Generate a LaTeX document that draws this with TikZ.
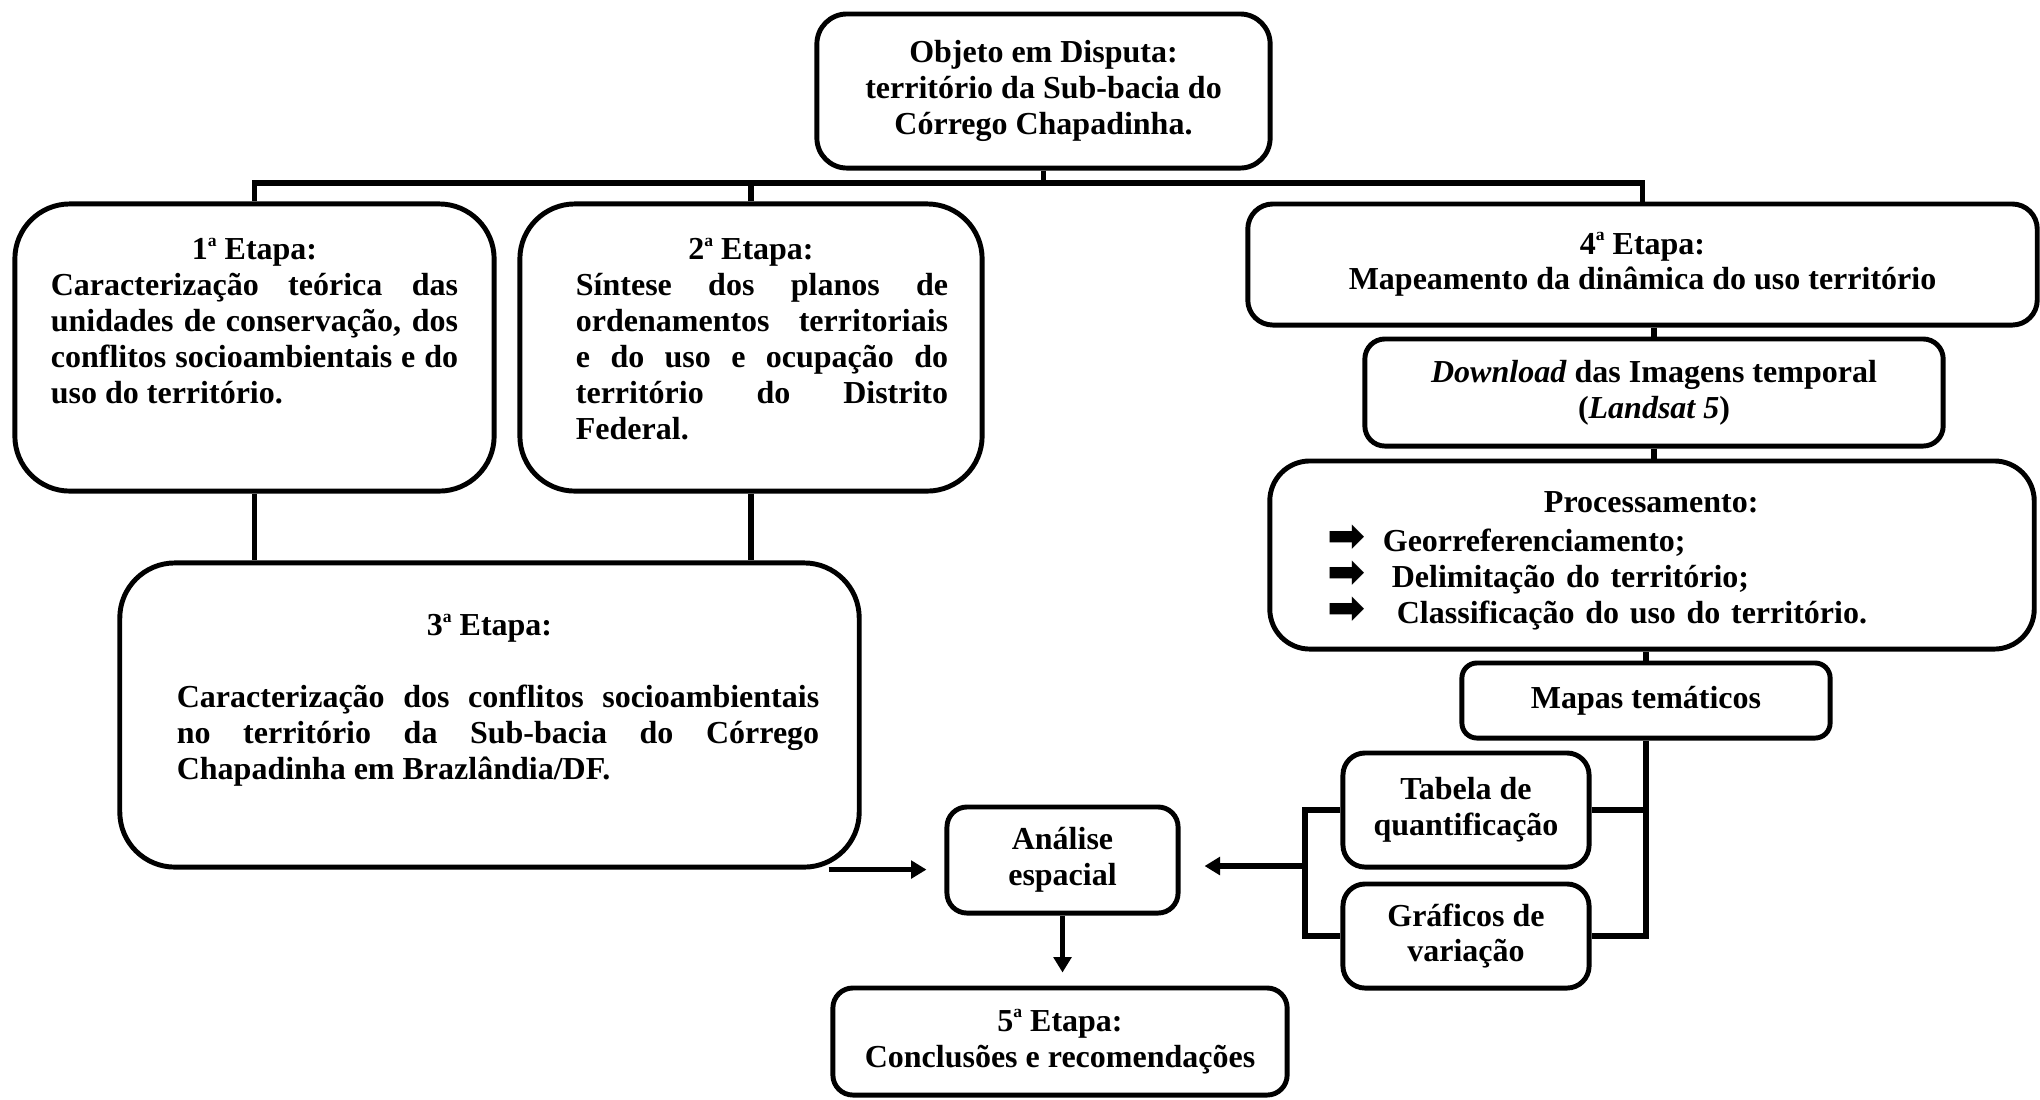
\documentclass[tikz,border=0pt]{standalone}
\usepackage{fontspec}
\setmainfont{Liberation Serif}
\newfontfamily\dejavu{DejaVu Sans}
\usetikzlibrary{arrows.meta, calc}
\tolerance=10000
\hyphenpenalty=10000
\exhyphenpenalty=10000

\newcommand{\diagfont}{\fontsize{9.1}{10.2}\selectfont\bfseries}
\newcommand{\ord}{\raisebox{0.42em}{\fontsize{5}{5}\selectfont a}}
\newcommand{\procarrow}[1][0cm]{\makebox[0.55cm][l]{\dejavu\fontsize{13}{10}\selectfont ➡}\hspace*{#1}}

\begin{document}
\begin{tikzpicture}[
    x=0.01cm, y=-0.01cm,
    every node/.style={font=\diagfont},
    box/.style={rectangle, draw=black, line width=1.4pt, rounded corners=#1, align=center, inner sep=2pt},
    box/.default=0.2cm,
    stage/.style={box=0.55cm, align=justify, inner ysep=0pt},
    link/.style={line width=1.6pt},
    arrow/.style={link, -{Triangle[length=4.4pt, width=5pt]}}
]
\useasboundingbox (0,0) rectangle (2040,1099);

% Objeto em disputa e etapas 1, 2 e 4
\node[box=0.3cm, minimum width=4.53cm, minimum height=1.54cm] (obj) at (1043.5,91) {Objeto em Disputa:\\território da Sub-bacia do\\Córrego Chapadinha.};
\node[stage, text width=4.07cm, inner xsep=0.36cm, text height=0.56cm, text depth=2.31cm] (s1) at (254.5,347.5) {{\centering 1\ord{} Etapa:\par}Caracterização teórica das\linebreak unidades de conservação, dos\linebreak conflitos socioambientais e do\linebreak uso do território.};
\node[stage, text width=3.89cm, inner xsep=0.365cm, text height=0.56cm, text depth=2.31cm] (s2) at (751,347.5) {{\centering 2\ord{} Etapa:\par}\hspace*{0.195cm}\parbox[t]{3.72cm}{Síntese dos planos de\linebreak ordenamentos territoriais\linebreak e do uso e ocupação do\linebreak território do Distrito\linebreak Federal.}};
\node[box=0.25cm, minimum width=7.89cm, minimum height=1.21cm] (s4) at (1642.5,264.5) {4\ord{} Etapa:\\Mapeamento da dinâmica do uso território};

% Etapa 3
\node[stage, text width=6.6cm, inner xsep=0.395cm, text height=0.73cm, text depth=2.31cm] (s3) at (489.5,715) {{\centering 3\ord{} Etapa:\par}\vspace{\baselineskip}\hspace*{0.175cm}\parbox[t]{6.42cm}{Caracterização dos conflitos socioambientais\linebreak no território da Sub-bacia do Córrego\linebreak Chapadinha em Brazlândia/DF.}};

% Mapeamento
\node[box, minimum width=5.78cm, minimum height=1.07cm] (dl) at (1654,392.5) {\textit{Download} das Imagens temporal\\(\textit{Landsat 5})};
\node[box=0.4cm, minimum width=7.64cm, minimum height=1.88cm, text width=6.48cm, align=left, inner xsep=0.58cm] (proc) at (1652,555) {\rule{0pt}{0.32cm}\hspace*{2.16cm}Processamento:\\[0.03cm]\procarrow Georreferenciamento;\\\procarrow[0.09cm]Delimitação do território;\\\procarrow[0.14cm]Classificação do uso do território.};
\node[box=0.15cm, minimum width=3.68cm, minimum height=0.75cm] (mapas) at (1646,700.5) {Mapas temáticos};
\node[box=0.22cm, minimum width=2.46cm, minimum height=1.14cm] (tab) at (1466,810) {Tabela de\\quantificação};
\node[box=0.22cm, minimum width=2.46cm, minimum height=1.04cm] (graf) at (1466,936) {Gráficos de\\variação};

% Analise e etapa 5
\node[box, minimum width=2.31cm, minimum height=1.06cm] (ana) at (1062.5,860) {Análise\\espacial};
\node[box, minimum width=4.54cm, minimum height=1.07cm] (s5) at (1060,1041.5) {5\ord{} Etapa:\\Conclusões e recomendações};

% ligacoes
\coordinate (hub) at (1043.5,183);
\coordinate (fork) at (1305,866);
\draw[link] (obj.south) -- (hub);
\draw[link] (s1.north) |- (hub) -| (s4.north);
\draw[link] (s2.north) -- (s2.north |- hub);
\draw[link] (s1.south) -- (s1.south |- s3.north);
\draw[link] (s2.south) -- (s2.south |- s3.north);
\draw[link] (dl.north |- s4.south) -- (dl.north);
\draw[link] (dl.south) -- (dl.south |- proc.north);
\draw[link] (proc.south -| mapas.north) -- (mapas.north);
\draw[link] (mapas.south) |- (graf.east);
\draw[link] (tab.east) -- (tab.east -| mapas.south);
\draw[link] (tab.west) -| (fork) |- (graf.west);
\draw[arrow, shorten >=0.24cm] (fork) -- (fork -| ana.east);
\draw[arrow, shorten >=0.18cm] ([xshift=-0.33cm]s3.south east) -- (s3.south east -| ana.west);
\draw[arrow, shorten >=0.13cm] (ana.south) -- (ana.south |- s5.north);

\end{tikzpicture}
\end{document}
